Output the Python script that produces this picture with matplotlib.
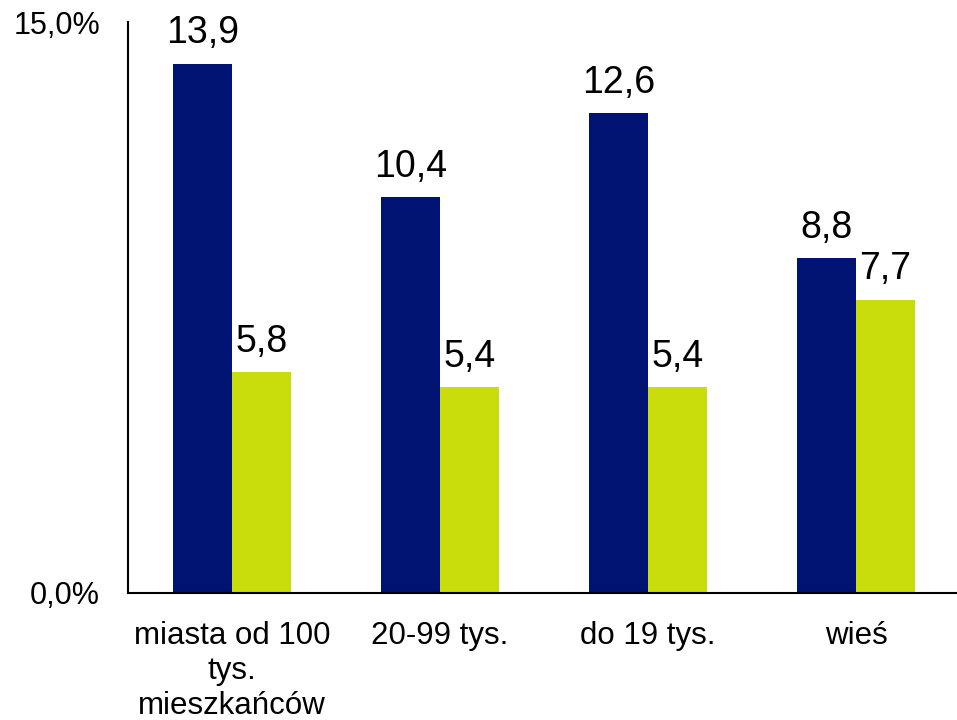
import numpy as np
import matplotlib.pyplot as plt

plt.rcParams['font.family'] = ['Liberation Sans', 'DejaVu Sans']

categories = ["miasta od 100\ntys.\nmieszkańców", "20-99 tys.", "do 19 tys.", "wieś"]
series_a = [13.9, 10.4, 12.6, 8.8]
series_b = [5.8, 5.4, 5.4, 7.7]

navy = '#001272'
lime = '#C9DD0C'

fig = plt.figure(figsize=(9.57, 7.2), dpi=100)
ax = fig.add_axes([128/957, 127/720, 832/957, 571/720])

x = np.arange(len(categories))
w = 0.284
b1 = ax.bar(x - w/2, series_a, width=w, color=navy)
b2 = ax.bar(x + w/2, series_b, width=w, color=lime)

def fmt(v):
    return f"{v:.1f}".replace('.', ',')

ax.bar_label(b1, labels=[fmt(v) for v in series_a], padding=9, fontsize=27)
ax.bar_label(b2, labels=[fmt(v) for v in series_b], padding=9, fontsize=27)

ax.set_xlim(-0.5, 3.5)
ax.set_ylim(0, 15)
ax.set_yticks([0, 15])
ax.set_yticklabels(["0,0%", "15,0%"], fontsize=22)
ax.set_xticks(x)
ax.set_xticklabels(categories, fontsize=22.5, linespacing=1.22)
ax.tick_params(axis='both', length=0)
ax.tick_params(axis='y', pad=20)
ax.tick_params(axis='x', pad=20)

for s in ['top', 'right']:
    ax.spines[s].set_visible(False)
ax.spines['left'].set_linewidth(1.5)
ax.spines['bottom'].set_linewidth(1.5)

fig.savefig("out.png", dpi=100)
